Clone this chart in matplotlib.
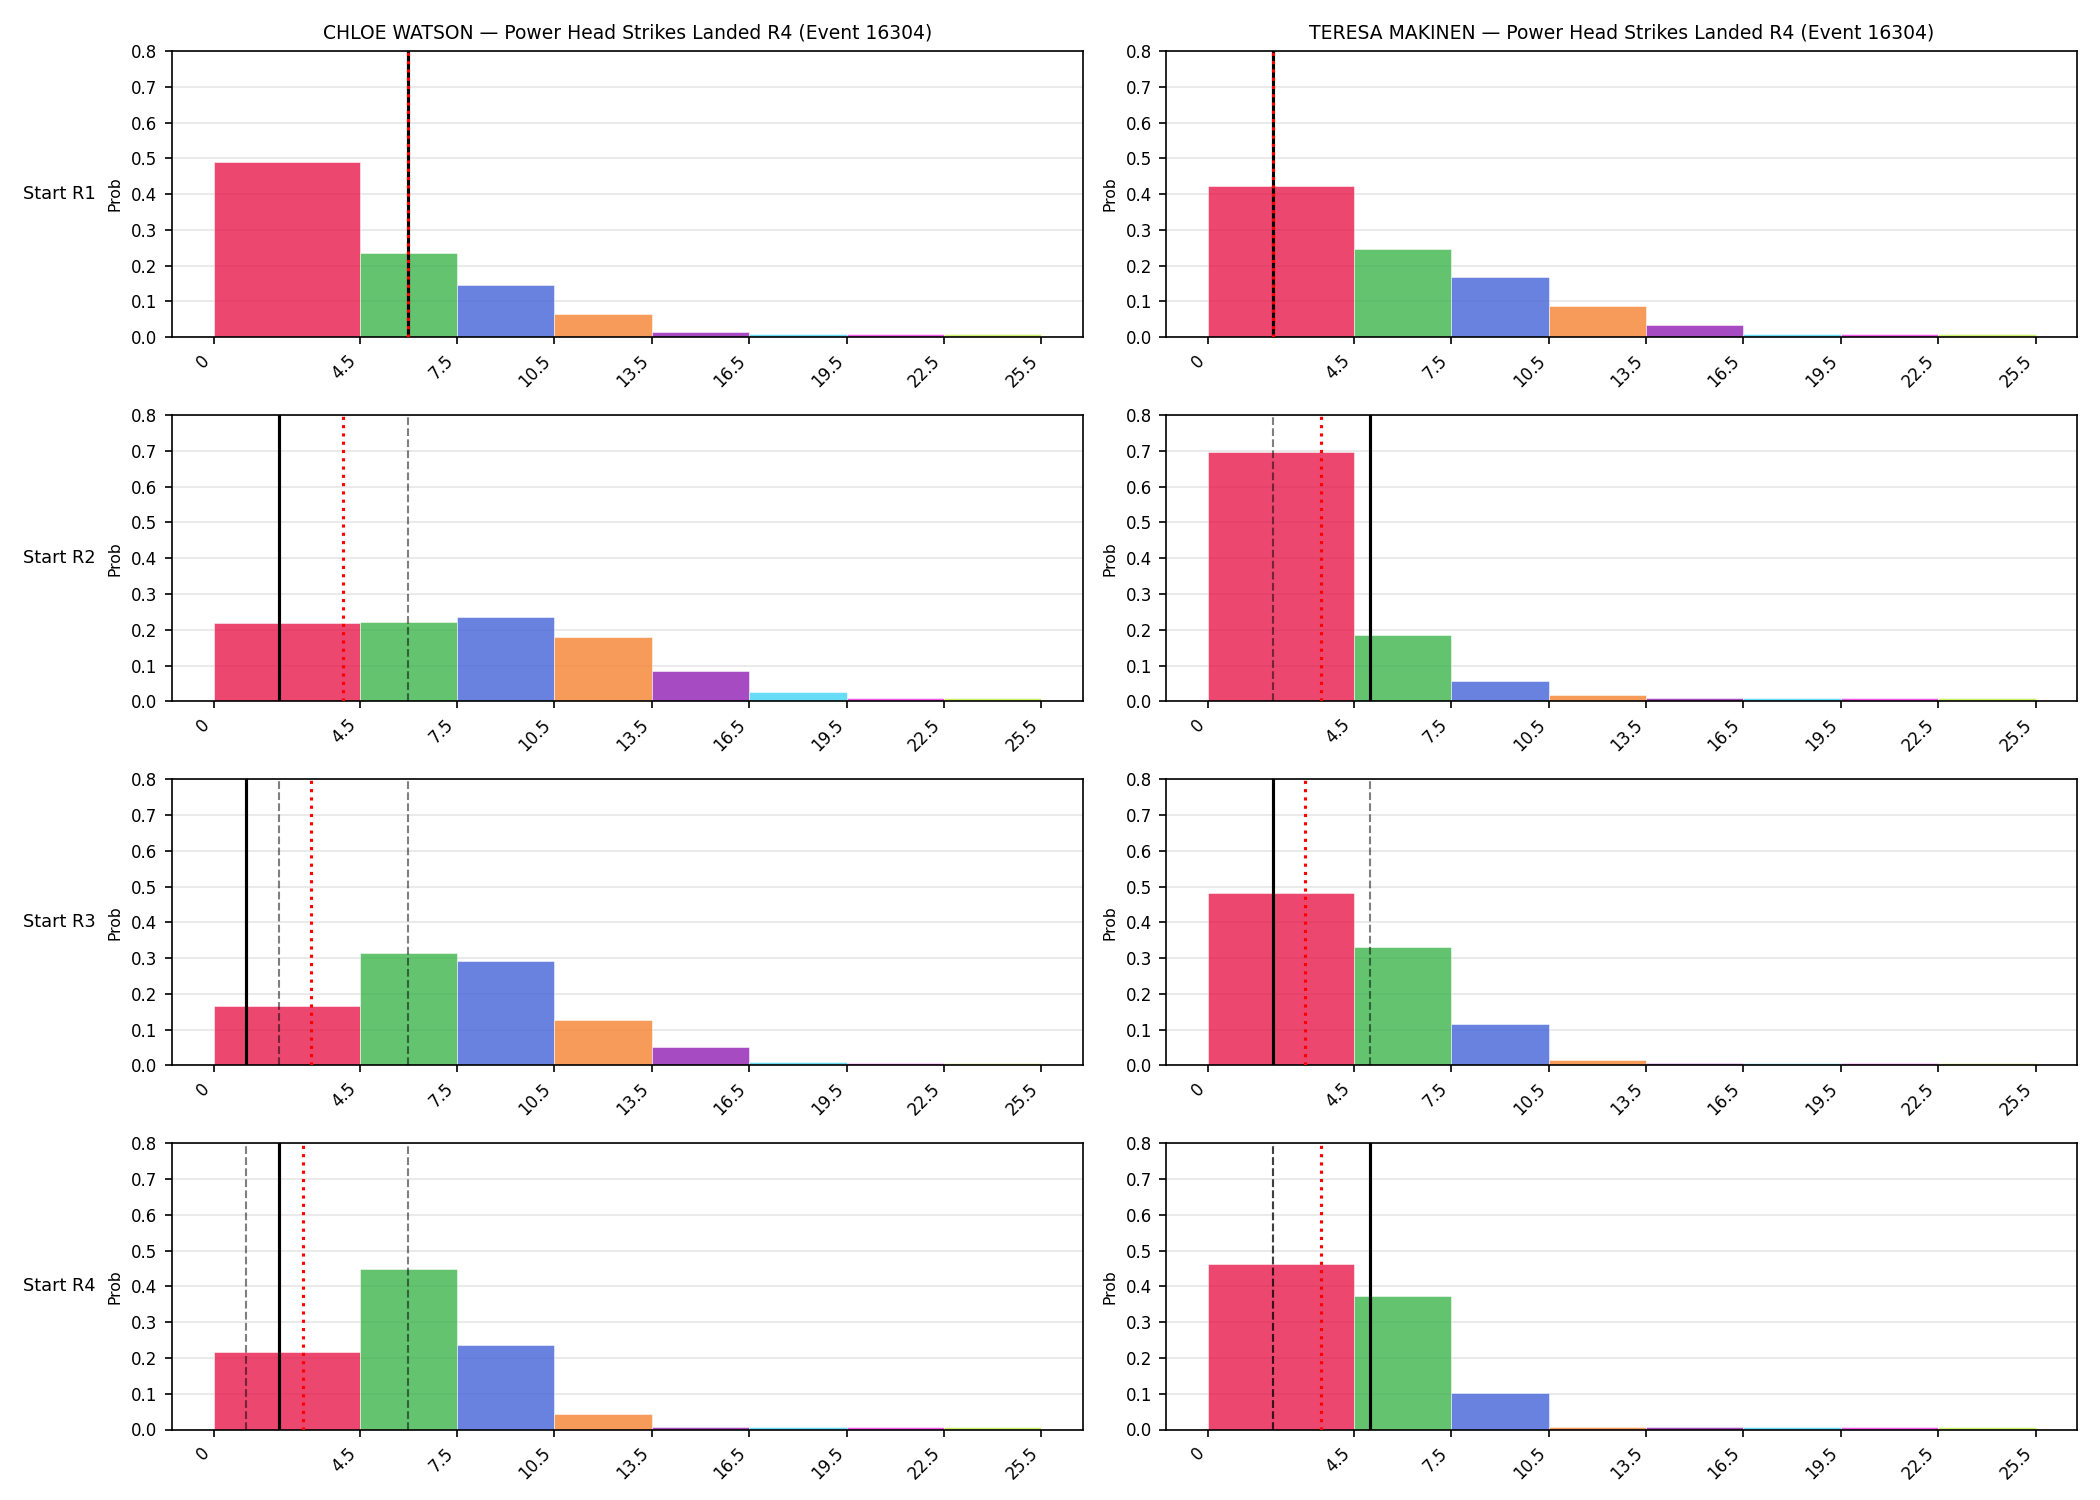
import matplotlib
matplotlib.use("Agg")
import matplotlib.pyplot as plt
import numpy as np

# Bin edges (x scale) and tick labels
bin_edges = [0, 4.5, 7.5, 10.5, 13.5, 16.5, 19.5, 22.5, 25.5]
tick_labels = ["0", "4.5", "7.5", "10.5", "13.5", "16.5", "19.5", "22.5", "25.5"]
bin_colors = ["#e6194B", "#3cb44b", "#4363d8", "#f58231", "#911eb4", "#42d4f4", "#f032e6", "#bfef45"]

fighters = ["CHLOE WATSON", "TERESA MAKINEN"]
row_labels = ["Start R1", "Start R2", "Start R3", "Start R4"]

# Probabilities per bin, per start round
chloe_probs = [
    [0.490, 0.236, 0.147, 0.066, 0.016, 0.008, 0.008, 0.008],
    [0.219, 0.223, 0.236, 0.181, 0.084, 0.025, 0.008, 0.008],
    [0.165, 0.313, 0.293, 0.126, 0.051, 0.009, 0.006, 0.006],
    [0.218, 0.449, 0.237, 0.043, 0.006, 0.006, 0.006, 0.006],
]
teresa_probs = [
    [0.424, 0.248, 0.167, 0.086, 0.033, 0.008, 0.008, 0.008],
    [0.696, 0.184, 0.056, 0.017, 0.008, 0.008, 0.008, 0.008],
    [0.483, 0.332, 0.115, 0.015, 0.006, 0.006, 0.006, 0.006],
    [0.463, 0.374, 0.103, 0.006, 0.006, 0.006, 0.006, 0.006],
]

# Reference lines: solid black, dashed grey (list), dotted red
chloe_solid = [6, 2, 1, 2]
chloe_dashed = [[6], [6], [2, 6], [1, 6]]
chloe_dotted = [6, 4, 3, 2.75]
teresa_solid = [2, 5, 2, 5]
teresa_dashed = [[2], [2], [5], [2, 2]]
teresa_dotted = [2, 3.5, 3, 3.5]

all_probs = [chloe_probs, teresa_probs]
all_solid = [chloe_solid, teresa_solid]
all_dashed = [chloe_dashed, teresa_dashed]
all_dotted = [chloe_dotted, teresa_dotted]

fig, axes = plt.subplots(4, 2, figsize=(14, 10), dpi=150)
fig.subplots_adjust(left=0.082, right=0.989, top=0.966, bottom=0.047,
                    wspace=0.092, hspace=0.272)

edges = np.array(bin_edges)
lefts = edges[:-1]
widths = np.diff(edges)

for c in range(2):
    for r in range(4):
        ax = axes[r, c]
        probs = all_probs[c][r]
        ax.bar(lefts, probs, width=widths, align="edge", color=bin_colors,
               alpha=0.8, edgecolor="white", linewidth=0.3, zorder=2)
        ax.axvline(all_solid[c][r], color="black", linestyle="-", linewidth=1.5, zorder=3)
        for d in all_dashed[c][r]:
            ax.axvline(d, color="black", linestyle="--", linewidth=1.0, alpha=0.5, zorder=3)
        ax.axvline(all_dotted[c][r], color="red", linestyle=":", linewidth=1.5, zorder=4)
        ax.set_ylim(0, 0.8)
        yt = np.arange(0, 0.81, 0.1)
        ax.set_yticks(yt)
        ax.set_yticklabels([f"{v:.1f}" for v in yt], fontsize=8)
        ax.set_xticks(bin_edges)
        ax.set_xticklabels(tick_labels, rotation=45, ha="right", fontsize=8)
        ax.set_ylabel("Prob", fontsize=7.5)
        ax.grid(axis="y", color="#e6e6e6", linewidth=0.8, zorder=0)
        ax.set_axisbelow(True)
        if r == 0:
            ax.set_title(f"{fighters[c]} — Power Head Strikes Landed R4 (Event 16304)", fontsize=9)

for r in range(4):
    pos = axes[r, 0].get_position()
    fig.text(0.011, (pos.y0 + pos.y1) / 2, row_labels[r], ha="left", va="center", fontsize=8.5)

fig.savefig("out.png", dpi=150)
